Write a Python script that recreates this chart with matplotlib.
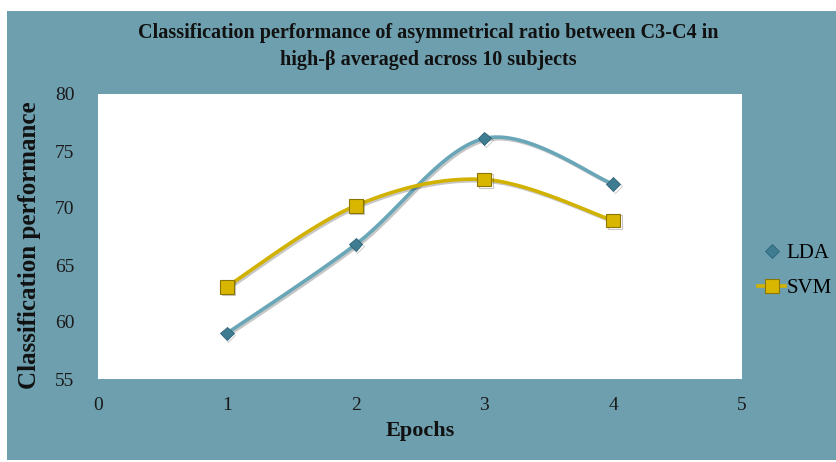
import numpy as np
import matplotlib
matplotlib.use("Agg")
import matplotlib.pyplot as plt
import matplotlib.patheffects as pe
from matplotlib.lines import Line2D

# Data
epochs = [1, 2, 3, 4]
lda_perf = [59.0, 66.8, 76.1, 72.1]
svm_perf = [63.1, 70.2, 72.5, 68.9]
series_names = ["LDA", "SVM"]
x_ticks = [0, 1, 2, 3, 4, 5]
y_ticks = [55, 60, 65, 70, 75, 80]

BG = "#6e9fae"
LDA_LINE = "#68a6b8"
LDA_MARK = "#3e7c92"
SVM_LINE = "#d2b200"
SVM_MARK = "#d8b600"
SVM_EDGE = "#8a7600"


def smooth_curve(xs, ys, n=40):
    """Cardinal (Catmull-Rom style) bezier smoothing through the points."""
    p = np.column_stack([xs, ys]).astype(float)
    pts = []
    m = len(p)
    for i in range(m - 1):
        p0 = p[i - 1] if i > 0 else p[i]
        p1 = p[i]
        p2 = p[i + 1]
        p3 = p[i + 2] if i + 2 < m else p[i + 1]
        c1 = p1 + (p2 - p0) / 6.0
        c2 = p2 - (p3 - p1) / 6.0
        t = np.linspace(0, 1, n)[:, None]
        seg = ((1 - t) ** 3) * p1 + 3 * ((1 - t) ** 2) * t * c1 + 3 * (1 - t) * t ** 2 * c2 + t ** 3 * p2
        if i > 0:
            seg = seg[1:]
        pts.append(seg)
    out = np.vstack(pts)
    return out[:, 0], out[:, 1]


plt.rcParams["font.family"] = ["Liberation Serif", "DejaVu Serif"]

fig = plt.figure(figsize=(8.36, 4.62), dpi=100, facecolor="white")
# teal panel behind the chart
fig.patches.append(plt.Rectangle((7 / 836, 0.004), 1, 1 - 11 / 462 - 0.004,
                                 transform=fig.transFigure, facecolor=BG,
                                 edgecolor="none", zorder=-10))

ax = fig.add_axes([98 / 836, 1 - 379 / 462, (742 - 98) / 836, (379 - 94) / 462])
ax.set_facecolor("white")

shadow = [pe.SimpleLineShadow(offset=(1.2, -1.2), shadow_color="#000000", alpha=0.22), pe.Normal()]

lx, ly = smooth_curve(epochs, lda_perf)
sx, sy = smooth_curve(epochs, svm_perf)
ax.plot(lx, ly, color=LDA_LINE, lw=2.6, solid_capstyle="round", zorder=3, path_effects=shadow)
ax.plot(sx, sy, color=SVM_LINE, lw=2.6, solid_capstyle="round", zorder=3, path_effects=shadow)
ax.plot(epochs, lda_perf, ls="none", marker="D", ms=7, color=LDA_MARK,
        mec="#2f6478", mew=0.6, zorder=5, path_effects=shadow)
ax.plot(epochs, svm_perf, ls="none", marker="s", ms=10, color=SVM_MARK,
        mec=SVM_EDGE, mew=0.8, zorder=5, path_effects=shadow)

ax.set_xlim(0, 5)
ax.set_ylim(55, 80)
ax.set_xticks(x_ticks)
ax.set_yticks(y_ticks)
ax.tick_params(axis="both", length=0, labelsize=14, colors="#1a1a1a")
ax.tick_params(axis="x", pad=13)
ax.tick_params(axis="y", pad=17)
for s in ax.spines.values():
    s.set_visible(False)

ax.set_xlabel("Epochs", fontsize=16, fontweight="bold", labelpad=5, color="#111111")
ax.set_ylabel("Classification performance", fontsize=18, fontweight="bold",
              color="#111111", va="center")
ax.yaxis.set_label_coords((30 - 98) / 644, 0.47)

fig.text(0.512, 1 - 33 / 462, "Classification performance of asymmetrical ratio between C3-C4 in",
         ha="center", va="center", fontsize=14.5, fontweight="bold", color="#111111")
fig.text(0.512, 1 - 60 / 462, "high-\u03b2 averaged across 10 subjects",
         ha="center", va="center", fontsize=14.5, fontweight="bold", color="#111111")

# legend entries outside the plot area
handles = [
    Line2D([], [], ls="none", marker="D", ms=7, color=LDA_MARK, mec="#2f6478", mew=0.6),
    Line2D([], [], color=SVM_LINE, lw=2.6, marker="s", ms=10, mfc=SVM_MARK, mec=SVM_EDGE, mew=0.8),
]
fig.legend(handles, series_names, loc="center left", bbox_to_anchor=(758 / 836, 1 - 271 / 462),
           frameon=False, fontsize=15, handlelength=1.3, handletextpad=0.05,
           labelspacing=0.75, borderaxespad=0, borderpad=0)

fig.savefig("out.png", dpi=100, facecolor="white")
